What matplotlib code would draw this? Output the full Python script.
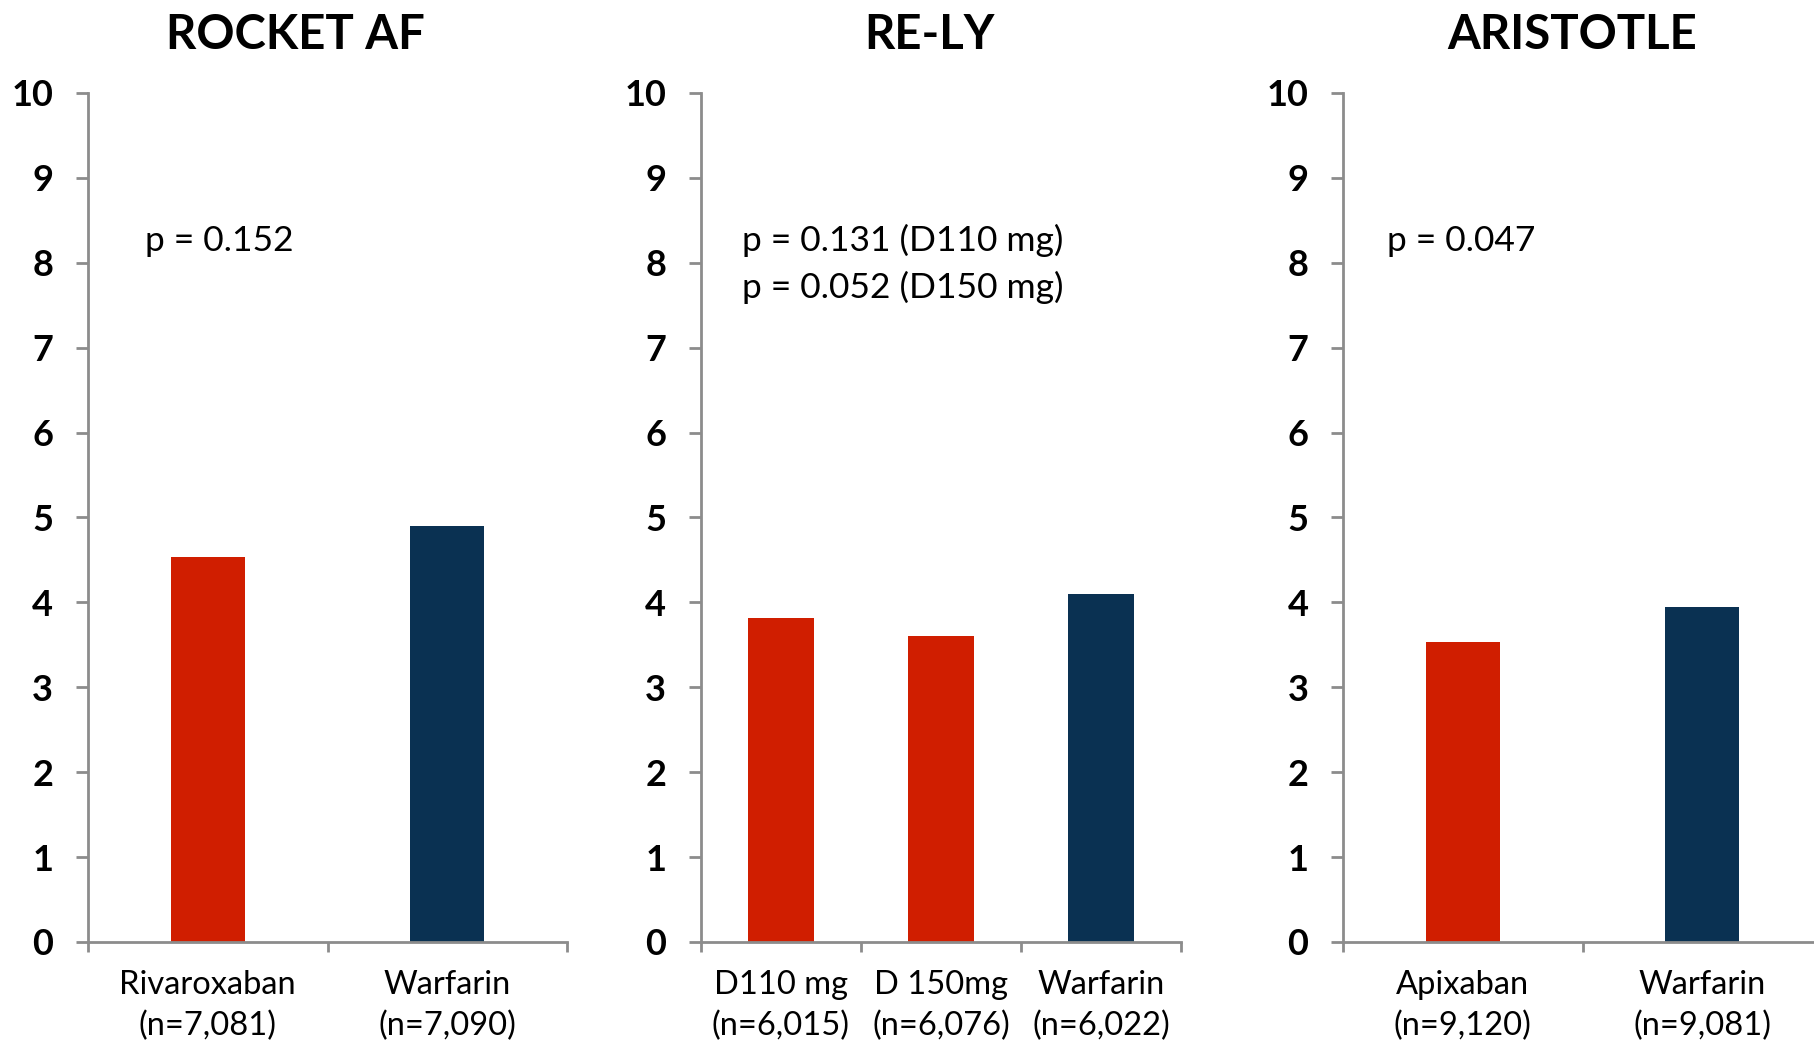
import matplotlib
matplotlib.use('Agg')
import matplotlib.pyplot as plt
import numpy as np

plt.rcParams['font.family'] = ['Lato', 'DejaVu Sans']

# data
trials = ['ROCKET AF', 'RE-LY', 'ARISTOTLE']
rocket_labels = ['Rivaroxaban\n(n=7,081)', 'Warfarin\n(n=7,090)']
rocket_values = [4.53, 4.90]
rely_labels = ['D110 mg\n(n=6,015)', 'D 150mg\n(n=6,076)', 'Warfarin\n(n=6,022)']
rely_values = [3.81, 3.60, 4.10]
aristotle_labels = ['Apixaban\n(n=9,120)', 'Warfarin\n(n=9,081)']
aristotle_values = [3.53, 3.95]
p_texts = [['p = 0.152'],
           ['p = 0.131 (D110 mg)', 'p = 0.052 (D150 mg)'],
           ['p = 0.047']]

RED = '#D01E00'
NAVY = '#0A3152'
GRAY = '#8C8C8C'

fig = plt.figure(figsize=(18.15, 10.45), dpi=100)

# [left, bottom, width, height] of each panel, figure fractions
boxes = [[0.0485, 0.0986, 0.2639, 0.8125],
         [0.3862, 0.0986, 0.2645, 0.8125],
         [0.7400, 0.0986, 0.2639, 0.8125]]
title_x = [0.1626, 0.512, 0.866]
p_x = [0.237, 0.254, 0.184]   # in category units from the y axis

panels = [(rocket_labels, rocket_values, [RED, NAVY], 0.31),
          (rely_labels, rely_values, [RED, RED, NAVY], 0.41),
          (aristotle_labels, aristotle_values, [RED, NAVY], 0.31)]

for i, (labels, values, colors, width) in enumerate(panels):
    ax = fig.add_axes(boxes[i])
    n = len(values)
    x = np.arange(n) + 0.5
    ax.bar(x, values, width=width, color=colors, zorder=2)
    ax.set_xlim(0, n)
    ax.set_ylim(0, 10)
    ax.set_yticks(range(11))
    ax.set_yticklabels([str(v) for v in range(11)], fontsize=26, fontweight='bold')
    ax.set_xticks(x)
    ax.set_xticklabels(labels, fontsize=23.5, linespacing=1.45)
    ax.set_xticks(np.arange(n + 1), minor=True)
    ax.tick_params(axis='x', which='major', length=0, pad=20)
    ax.tick_params(axis='x', which='minor', length=7, width=2, color=GRAY)
    ax.tick_params(axis='y', length=9, width=2, color=GRAY, pad=16)
    for s in ['top', 'right']:
        ax.spines[s].set_visible(False)
    for s in ['left', 'bottom']:
        ax.spines[s].set_color(GRAY)
        ax.spines[s].set_linewidth(2)
    ax.patch.set_alpha(0)
    for j, t in enumerate(p_texts[i]):
        ax.text(p_x[i], 8.26 - 0.55 * j, t, fontsize=25.5, va='center', ha='left')
    fig.text(title_x[i], 0.9665, trials[i], fontsize=34, fontweight='bold',
             ha='center', va='center')

fig.savefig('out.png', dpi=100)
